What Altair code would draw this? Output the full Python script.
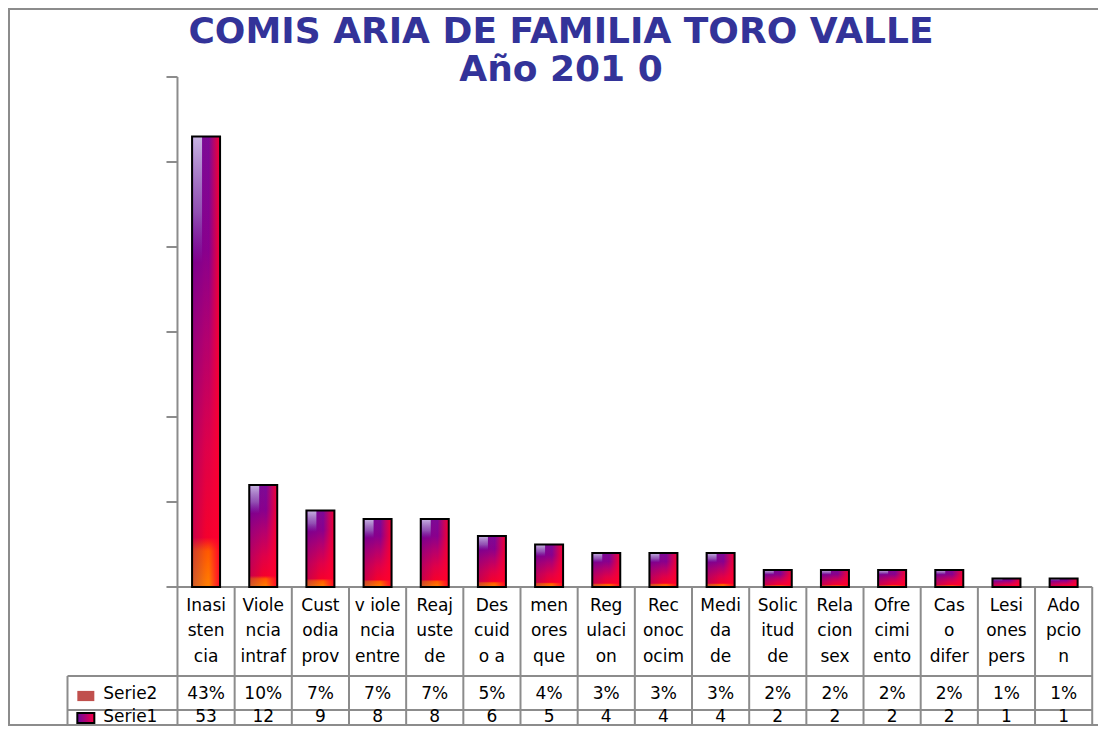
import altair as alt
import pandas as pd

# ---------------- data ----------------
categories = ["Inasi\nsten\ncia", "Viole\nncia\nintraf", "Cust\nodia\nprov", "v iole\nncia\nentre",
              "Reaj\nuste\nde", "Des\ncuid\no a", "men\nores\nque", "Reg\nulaci\non",
              "Rec\nonoc\nocim", "Medi\nda\nde", "Solic\nitud\nde", "Rela\ncion\nsex",
              "Ofre\ncimi\nento", "Cas\no\ndifer", "Lesi\nones\npers", "Ado\npcio\nn"]
serie1 = [53, 12, 9, 8, 8, 6, 5, 4, 4, 4, 2, 2, 2, 2, 1, 1]
serie2_pct = [43, 10, 7, 7, 7, 5, 4, 3, 3, 3, 2, 2, 2, 2, 1, 1]
series_names = ["Serie2", "Serie1"]
y_ticks = [0, 10, 20, 30, 40, 50, 60]
title_lines = ["COMIS ARIA DE FAMILIA TORO VALLE", "Año 201 0"]

# ---------------- layout (pixels -> data units) ----------------
W, H = 1090, 718
PX_COL = 57.7          # pixels per table column
PX_UNIT = 8.5          # pixels per y unit
X0 = -166 / PX_COL
X1 = X0 + W / PX_COL
Y_TOP = 579 / PX_UNIT
Y_BOT = Y_TOP - H / PX_UNIT
N = len(categories)
ROW1_END = -(676 - 587) / PX_UNIT
ROW2_END = -(710 - 587) / PX_UNIT
ROW3_END = -(744 - 587) / PX_UNIT
HDR_X = (63 - 174) / PX_COL
HDR_TEXT_X = (99 - 174) / PX_COL
SWATCH_X = (81.5 - 174) / PX_COL
LABEL_Y = -(605.5 - 587) / PX_UNIT
S2_Y = -(694 - 587) / PX_UNIT
S1_Y = -(717 - 587) / PX_UNIT
SW2_Y = -(696 - 587) / PX_UNIT
SW1_Y = -(718 - 587) / PX_UNIT

xs = alt.Scale(domain=[X0, X1], nice=False, zero=False)
ys = alt.Scale(domain=[Y_BOT, Y_TOP], nice=False, zero=False)
FONT = "DejaVu Sans"
GRID = "#8c8c8c"

bars = pd.DataFrame({"col": [i + 0.5 for i in range(N)], "v": serie1})

table = pd.DataFrame({
    "col": [i + 0.5 for i in range(N)],
    "cat": categories,
    "s2": [f"{p}%" for p in serie2_pct],
    "s1": [str(v) for v in serie1],
})

# table lines
lines = []
for i in range(N + 1):
    lines.append({"x": i, "x2": i, "y": (y_ticks[-1] if i == 0 else 0), "y2": ROW3_END})
lines.append({"x": HDR_X, "x2": HDR_X, "y": ROW1_END, "y2": ROW3_END})
lines.append({"x": 0, "x2": N, "y": 0, "y2": 0})
lines.append({"x": HDR_X, "x2": N, "y": ROW1_END, "y2": ROW1_END})
lines.append({"x": HDR_X, "x2": N, "y": ROW2_END, "y2": ROW2_END})
lines_df = pd.DataFrame(lines)

X = lambda f: alt.X(f, type="quantitative", scale=xs, axis=None)
Y = lambda f: alt.Y(f, type="quantitative", scale=ys, axis=None)

rule_layer = alt.Chart(lines_df).mark_rule(color=GRID, strokeWidth=2).encode(
    x=X("x"), x2="x2", y=Y("y"), y2="y2")

tick_layer = alt.Chart(pd.DataFrame({"t": y_ticks})).mark_rule(
    color=GRID, strokeWidth=2, x2Offset=-11).encode(
    x=alt.X(datum=0, type="quantitative", scale=xs, axis=None),
    x2=alt.datum(0),
    y=Y("t"))

# outer frame (left, top, bottom edges; right edge lies beyond the picture)
frame = pd.DataFrame({"edge": ["left", "top", "bottom"]})
frame_left = alt.Chart(frame).transform_filter("datum.edge == 'left'").mark_rule(
    color=GRID, strokeWidth=2).encode(x=alt.value(1), y=alt.value(0), y2=alt.value(H))
frame_top = alt.Chart(frame).transform_filter("datum.edge == 'top'").mark_rule(
    color=GRID, strokeWidth=2).encode(x=alt.value(0), x2=alt.value(W), y=alt.value(1))
frame_bottom = alt.Chart(frame).transform_filter("datum.edge == 'bottom'").mark_rule(
    color=GRID, strokeWidth=2).encode(x=alt.value(0), x2=alt.value(W), y=alt.value(H - 1))

base_grad = alt.Gradient(
    gradient="linear", x1=0, x2=0, y1=1, y2=0,
    stops=[alt.GradientStop(color="#ff8200", offset=0),
           alt.GradientStop(color="#ff5a00", offset=0.08),
           alt.GradientStop(color="#f5002c", offset=0.11),
           alt.GradientStop(color="#e00048", offset=0.3),
           alt.GradientStop(color="#b20070", offset=0.55),
           alt.GradientStop(color="#86008f", offset=0.75),
           alt.GradientStop(color="#7a0a98", offset=1)])
side_grad = alt.Gradient(
    gradient="linear", x1=0, x2=1, y1=0, y2=0,
    stops=[alt.GradientStop(color="rgba(90,0,150,0.30)", offset=0),
           alt.GradientStop(color="rgba(110,0,140,0.12)", offset=0.35),
           alt.GradientStop(color="rgba(255,0,60,0)", offset=0.6),
           alt.GradientStop(color="rgba(255,0,50,0.5)", offset=0.8),
           alt.GradientStop(color="rgba(255,0,40,0.92)", offset=1)])
hl_grad = alt.Gradient(
    gradient="linear", x1=0, x2=0, y1=0, y2=1,
    stops=[alt.GradientStop(color="rgba(210,200,235,0.9)", offset=0),
           alt.GradientStop(color="rgba(160,130,200,0.6)", offset=0.6),
           alt.GradientStop(color="rgba(130,90,190,0)", offset=1)])

bar_enc = dict(x=X("col"), y=Y("v"), y2=alt.datum(0))
bar_base = alt.Chart(bars).mark_bar(width=28, orient="vertical", fill=base_grad).encode(**bar_enc)
bar_side = alt.Chart(bars).mark_bar(width=28, orient="vertical", fill=side_grad).encode(**bar_enc)
bar_hl = alt.Chart(bars).transform_calculate(hl="datum.v * 0.72").mark_bar(
    width=9, xOffset=-8.5, orient="vertical", fill=hl_grad).encode(
    x=X("col"), y=Y("v"), y2="hl:Q")
bar_edge = alt.Chart(bars).mark_bar(width=28, orient="vertical", fillOpacity=0,
                                    stroke="black", strokeWidth=2).encode(**bar_enc)

txt = dict(font=FONT, fontSize=17, color="black", align="center", baseline="middle")
cat_text = alt.Chart(table).mark_text(lineBreak="\n", lineHeight=25.5, **txt).encode(
    x=X("col"), y=alt.Y(datum=LABEL_Y, type="quantitative", scale=ys, axis=None), text="cat")
s2_text = alt.Chart(table).mark_text(**txt).encode(
    x=X("col"), y=alt.Y(datum=S2_Y, type="quantitative", scale=ys, axis=None), text="s2")
s1_text = alt.Chart(table).mark_text(**txt).encode(
    x=X("col"), y=alt.Y(datum=S1_Y, type="quantitative", scale=ys, axis=None), text="s1")

hdr = pd.DataFrame({"name": series_names, "y": [S2_Y, S1_Y], "sy": [SW2_Y, SW1_Y],
                    "tx": [HDR_TEXT_X] * 2, "sx": [SWATCH_X] * 2})
hdr_text = alt.Chart(hdr).mark_text(font=FONT, fontSize=17, color="black",
                                    align="left", baseline="middle").encode(
    x=X("tx"), y=Y("y"), text="name")
RECT = "M-1,-0.6H1V0.6H-1Z"
sw2 = alt.Chart(hdr).transform_filter("datum.name == 'Serie2'").mark_point(
    shape=RECT, size=289, filled=True, fill="#c0504d", opacity=1, strokeWidth=0).encode(
    x=X("sx"), y=Y("sy"))
sw_grad = alt.Gradient(
    gradient="linear", x1=0, x2=1, y1=0, y2=0,
    stops=[alt.GradientStop(color="#6a0aa0", offset=0),
           alt.GradientStop(color="#c0006a", offset=0.6),
           alt.GradientStop(color="#ff0040", offset=1)])
sw1 = alt.Chart(hdr).transform_filter("datum.name == 'Serie1'").mark_point(
    shape=RECT, size=289, filled=True, fill=sw_grad, opacity=1,
    stroke="black", strokeWidth=2).encode(x=X("sx"), y=Y("sy"))

chart = alt.layer(
    rule_layer, tick_layer, bar_base, bar_side, bar_hl, bar_edge,
    cat_text, s2_text, s1_text, hdr_text, sw2, sw1,
    frame_left, frame_top, frame_bottom,
).properties(
    width=W, height=H, padding=0,
    autosize=alt.AutoSizeParams(type="none"),
    title=alt.TitleParams(text=title_lines, font=FONT, fontSize=36, fontWeight="bold",
                          color="#333399", anchor="middle", baseline="bottom",
                          lineHeight=38, offset=-118, dx=8),
).configure_view(stroke=None)

chart.save("out.html", embed_options={"renderer": "svg", "actions": False})
